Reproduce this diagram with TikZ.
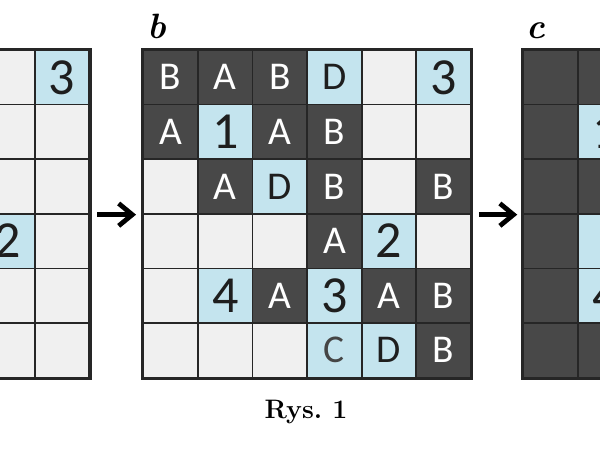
\documentclass[tikz,border=0pt]{standalone}
\usepackage{fontspec}
\newfontfamily\cellfont{Carlito}
\usepackage{xcolor}
\definecolor{cellgray}{HTML}{F0F0F0}
\definecolor{celldark}{HTML}{484848}
\definecolor{cellblue}{HTML}{C4E4EE}
\definecolor{gridline}{HTML}{262626}
\definecolor{ink}{HTML}{1E1E1E}
\definecolor{inkgray}{HTML}{454545}
\usetikzlibrary{arrows.meta}

\tikzset{
  cell/.style={minimum size=1.365cm, inner sep=0pt, draw=gridline, line width=1.2pt},
  lg/.style={cell, fill=cellgray},
  dk/.style={cell, fill=celldark, text=white, font=\cellfont\fontsize{28}{28}\selectfont},
  bl/.style={cell, fill=cellblue, text=ink, font=\cellfont\fontsize{28}{28}\selectfont},
  bx/.style={bl, text=inkgray},
  bn/.style={cell, fill=cellblue, text=ink, font=\cellfont\fontsize{37}{37}\selectfont},
  frame/.style={draw=gridline, line width=2pt},
  flow/.style={line width=3.4pt, -{Straight Barb[length=3.4mm, width=5.6mm]}},
  panel/.style={anchor=base west, font=\fontsize{25}{25}\selectfont\bfseries\itshape},
}

\begin{document}
\begin{tikzpicture}[x=0.025cm, y=-0.025cm]
  \useasboundingbox (0,0) rectangle (600,450);
  \clip (0,0) rectangle (600,450);

  % grid a (only its two last columns are in view)
  \foreach \r/\row in {1/{lg/,bn/3}, 2/{lg/,lg/}, 3/{lg/,lg/},
                       4/{bn/2,lg/}, 5/{lg/,lg/}, 6/{lg/,lg/}}
    \foreach \k/\txt [count=\c from 5] in \row
      \node[\k] (a-\r-\c) at (-238.3+54.6*\c-27.3, 22.7+54.6*\r) {\txt};
  \draw[frame] (a-1-5.north west) rectangle (a-6-6.south east);

  % grid b
  \foreach \r/\row in {1/{dk/B,dk/A,dk/B,bl/D,lg/,bn/3},
                       2/{dk/A,bn/1,dk/A,dk/B,lg/,lg/},
                       3/{lg/,dk/A,bl/D,dk/B,lg/,dk/B},
                       4/{lg/,lg/,lg/,dk/A,bn/2,lg/},
                       5/{lg/,bn/4,dk/A,bn/3,dk/A,dk/B},
                       6/{lg/,lg/,lg/,bx/C,bl/D,dk/B}}
    \foreach \k/\txt [count=\c] in \row
      \node[\k] (b-\r-\c) at (143.3+54.6*\c-27.3, 22.7+54.6*\r) {\txt};
  \draw[frame] (b-1-1.north west) rectangle (b-6-6.south east);

  % grid c (cut off at the right)
  \foreach \r/\row in {1/{dk/,dk/}, 2/{dk/,bn/1}, 3/{dk/,dk/},
                       4/{dk/,bl/}, 5/{dk/,bn/4}, 6/{dk/,dk/}}
    \foreach \k/\txt [count=\c] in \row
      \node[\k] (c-\r-\c) at (523.3+54.6*\c-27.3, 22.7+54.6*\r) {\txt};
  \draw[frame] (c-1-1.north west) rectangle (c-6-2.south east);

  \draw[flow] ([xshift=1.8mm]a-3-6.south east) -- ([xshift=-1.6mm]b-3-1.south west);
  \draw[flow] ([xshift=1.8mm]b-3-6.south east) -- ([xshift=-1.3mm]c-3-1.south west);

  \node[panel] (lab-b) at (143,38) {b};
  \node[panel] (lab-c) at (522,38) {c};
  \node[anchor=base, font=\fontsize{19}{19}\selectfont\bfseries] (caption) at (306,418) {Rys.~1};
\end{tikzpicture}
\end{document}
